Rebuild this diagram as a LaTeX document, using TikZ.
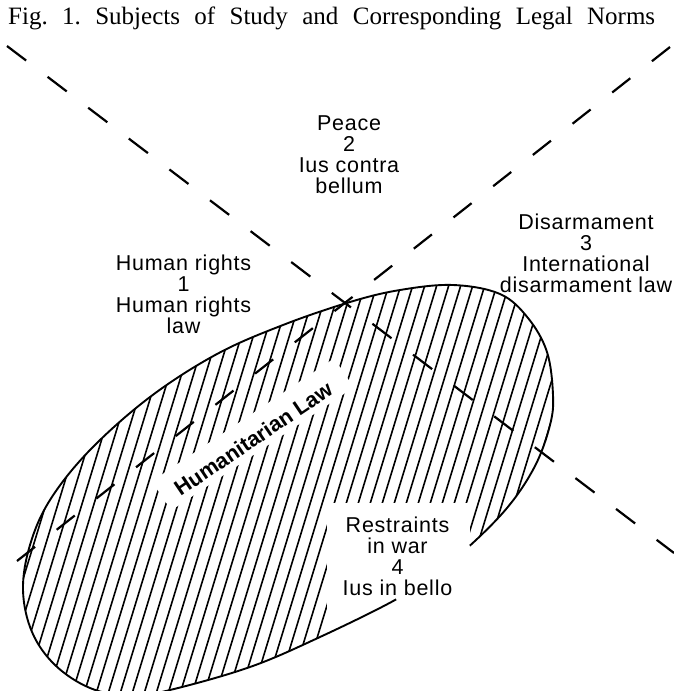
\documentclass[tikz,border=0pt]{standalone}
\usepackage{fontspec}
\setmainfont{Liberation Serif}
\newfontfamily\lblfont[LetterSpace=3.5]{Liberation Sans}
\newfontfamily\hlfont{Liberation Sans}
\begin{document}
\begin{tikzpicture}[x=1pt,y=-1pt,
  hatch/.style={line width=1.6pt},
  outline/.style={line width=1.9pt},
  dividerA/.style={line width=2.2pt, dash pattern=on 24pt off 27pt},
  dividerB/.style={line width=2.2pt, dash pattern=on 23pt off 27.5pt},
  lbl/.style={font=\lblfont\fontsize{21.5}{21}\selectfont, align=center, inner sep=0pt, anchor=base},
  hlstyle/.style={font=\hlfont\bfseries\fontsize{21.5}{24}\selectfont, rotate=34, anchor=base, inner sep=0pt}]
\useasboundingbox (0,0) rectangle (674,691);
\clip (0,0) rectangle (674,691);
% hatching, with the cleared areas
\begin{scope}
\clip plot[smooth cycle, tension=0.6] coordinates {(465,550) (507,508) (535,466) (550,425) (553,395) (547,352) (528,318) (500,294) (453,285) (400,290) (350,302) (283,325) (217,354) (150,397) (90,450) (50,500) (30,545) (23,590) (32,632) (55,665) (90,688) (130,696) (170,690) (250,667) (320,637) (395,600) (430,576)};
\foreach \x in {-260,-248,...,700} \draw[hatch] (\x,720) -- ({\x+220},0);
\fill[white] (327,503) rectangle (470,660);
\begin{scope}[shift={(257.5,445)}, rotate=34]
\fill[white] (-108,6) rectangle (112,-29);
\end{scope}
\end{scope}
% outline
\draw[outline] plot[smooth cycle, tension=0.6] coordinates {(465,550) (507,508) (535,466) (550,425) (553,395) (547,352) (528,318) (500,294) (453,285) (400,290) (350,302) (283,325) (217,354) (150,397) (90,450) (50,500) (30,545) (23,590) (32,632) (55,665) (90,688) (130,696) (170,690) (250,667) (320,637) (395,600) (430,576)};
% gap in the outline below the lower text
\fill[white] (394,594) -- (467,542) -- (475,553) -- (400,608) -- cycle;
% dividing lines
\coordinate (l1a) at (7,46);
\coordinate (l1b) at (674,553);
\coordinate (l2a) at (17,561);
\coordinate (l2b) at (670,47);
\draw[dividerA] (l1a) -- (l1b);
\draw[dividerB] (l2a) -- (l2b);
% texts
\node[anchor=base west, inner sep=0pt, font=\fontsize{25}{28}\selectfont] (title) at (8,24.5) {\makebox[647pt][s]{Fig.\ 1.\ Subjects of Study and Corresponding Legal Norms}};
\node[lbl] (peace) at (349,193) {Peace\\2\\Ius contra\\bellum};
\node[lbl] (human) at (183.5,333) {Human rights\\1\\Human rights\\law};
\node[lbl] (disarm) at (586,292) {Disarmament\\3\\International\\disarmament law};
\node[lbl] (restr) at (397.5,595) {Restraints\\in war\\4\\Ius in bello};
\node[hlstyle] (hl) at (257.5,445) {Humanitarian Law};
\end{tikzpicture}
\end{document}
